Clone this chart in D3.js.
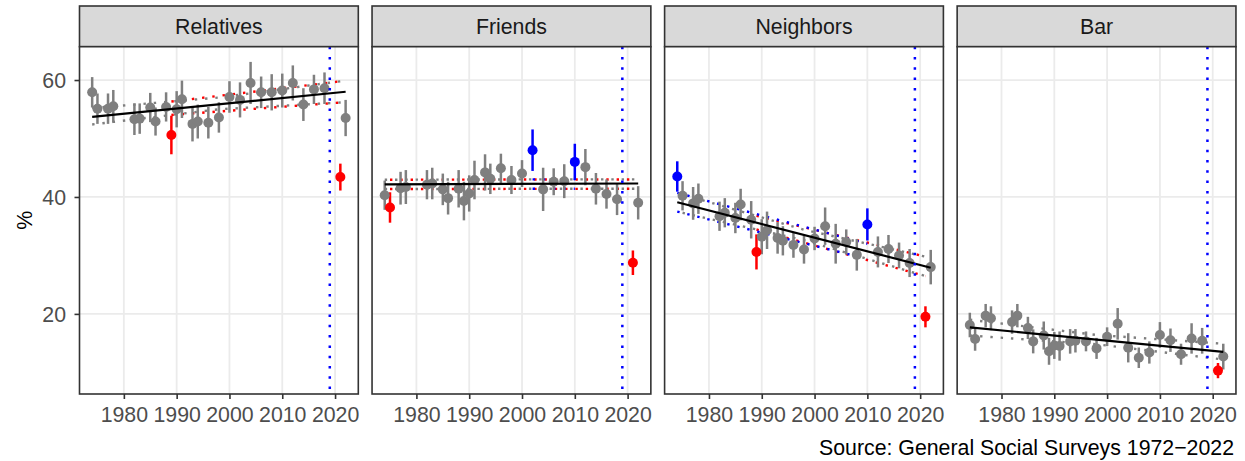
<!DOCTYPE html>
<html><head><meta charset="utf-8">
<script src="https://cdn.jsdelivr.net/npm/d3@7"></script>
<style>body{margin:0;background:#fff} svg{display:block}</style>
</head><body>
<svg id="chart" width="1245" height="461"></svg>
<script>
// ---- data ----
const years = [1974,1975,1977,1978,1982,1983,1985,1986,1988,1989,1990,1991,1993,1994,1996,1998,2000,2002,2004,2006,2008,2010,2012,2014,2016,2018,2021,2022];
const panelNames = ["Relatives","Friends","Neighbors","Bar"];

const relatives    = [57.9,55.1,55.1,55.5,53.3,53.4,55.3,52.9,55.4,50.6,55.0,56.7,52.5,52.9,52.7,53.6,57.1,56.6,59.5,57.9,57.9,58.2,59.5,55.8,58.4,58.6,43.4,53.5];
const relativesErr = [2.6,2.6,2.6,2.8,2.7,2.6,2.5,2.4,2.5,3.3,3.1,3.2,3.0,2.9,2.7,2.6,2.7,3.0,3.6,2.7,3.1,2.9,3.0,2.8,2.5,2.7,2.3,3.1];
const friends      = [40.3,38.2,41.5,41.7,42.1,42.3,41.3,39.8,41.4,39.3,40.6,42.9,44.2,43.1,44.9,42.9,44.0,48.0,41.3,42.6,42.7,46.0,45.1,41.4,40.5,39.6,28.75,39.0];
const friendsErr   = [2.5,2.6,2.8,2.9,2.5,2.7,2.7,2.8,3.2,3.3,3.1,3.3,3.1,2.6,2.5,2.4,2.3,3.55,3.7,2.3,2.9,3.1,3.1,2.7,2.5,2.7,2.1,2.85];
const neighbors    = [43.5,40.2,38.9,39.7,36.7,37.3,36.4,38.7,36.1,30.6,33.2,34.3,33.0,32.5,31.8,31.0,32.9,35.0,32.0,32.3,30.1,35.3,30.6,31.1,30.0,28.7,19.5,28.0];
const neighborsErr = [2.6,2.5,2.8,2.6,2.5,2.5,2.6,2.7,3.2,3.0,3.0,3.2,2.7,2.5,2.2,2.4,2.0,3.2,3.4,2.15,2.7,2.75,2.65,2.4,2.2,2.4,1.8,2.95];
const bar          = [18.1,15.7,19.7,19.25,18.6,19.7,17.6,15.3,16.3,13.6,14.6,14.5,15.3,15.4,15.3,14.1,16.1,18.3,14.2,12.5,13.4,16.4,15.5,13.1,15.8,15.4,10.3,12.7];
const barErr       = [2.1,2.0,2.0,2.05,2.0,2.0,1.9,2.05,2.4,2.3,2.3,2.5,2.1,2.0,1.7,1.8,1.6,2.7,2.5,1.75,1.9,2.2,2.0,1.8,2.6,2.2,1.3,2.2];

// years flagged below (red) / above (blue) the trend
const relativesRed = [1989,2021], relativesBlue = [];
const friendsRed   = [1975,2021], friendsBlue   = [2002,2010];
const neighborsRed = [1989,2021], neighborsBlue = [1974,2010];
const barRed       = [2021],      barBlue       = [];

// fitted trend (endpoints) and its confidence band (knots)
const trendYears = [1974, 2022];
const relativesTrend = [53.7, 58.0];
const friendsTrend   = [42.15, 42.3];
const neighborsTrend = [39.1, 27.9];
const barTrend       = [17.7, 13.5];
const bandYears = [1974, 1998, 2022];
const relativesBandLo = [52.4, 55.0, 56.2], relativesBandHi = [55.2, 57.0, 59.9];
const friendsBandLo   = [41.35, 41.4, 41.4], friendsBandHi  = [42.95, 43.0, 43.0];
const neighborsBandLo = [37.5, 32.6, 26.2], neighborsBandHi = [40.7, 34.4, 29.6];
const barBandLo       = [16.3, 14.8, 12.2], barBandHi       = [19.0, 16.4, 14.9];

const xTicks = [1980,1990,2000,2010,2020];
const yTicks = [20,40,60];
const cutoffYear = 2019;
const yLabel = "%";
const caption = "Source: General Social Surveys 1972\u22122022";

// ---- build table ----
const panels = [
  {name: panelNames[0], v: relatives, e: relativesErr, red: relativesRed, blue: relativesBlue, trend: relativesTrend, lo: relativesBandLo, hi: relativesBandHi},
  {name: panelNames[1], v: friends,   e: friendsErr,   red: friendsRed,   blue: friendsBlue,   trend: friendsTrend,   lo: friendsBandLo,   hi: friendsBandHi},
  {name: panelNames[2], v: neighbors, e: neighborsErr, red: neighborsRed, blue: neighborsBlue, trend: neighborsTrend, lo: neighborsBandLo, hi: neighborsBandHi},
  {name: panelNames[3], v: bar,       e: barErr,       red: barRed,       blue: barBlue,       trend: barTrend,       lo: barBandLo,       hi: barBandHi}
];

const COL = {g: "#7F7F7F", r: "#FF0000", b: "#0000FF"};
const FONT = "'Liberation Sans', Arial, Helvetica, sans-serif";
const FS = 21.3;

const svg = d3.select("#chart");
svg.append("rect").attr("width",1245).attr("height",461).attr("fill","#fff");

const left0 = 79.5, pw = 278.8, step = 292.55;
const stripTop = 6, plotTop = 46.7, plotBottom = 394;

const x = d3.scaleLinear().domain([1971.6, 2024.4]).range([0, pw]);
const y = d3.scaleLinear().domain([6.3, 65.7]).range([plotBottom, plotTop]);

panels.forEach((p, i) => {
  const g = svg.append("g").attr("transform", `translate(${left0 + i*step},0)`);
  // strip
  g.append("rect").attr("x",0).attr("y",stripTop).attr("width",pw).attr("height",plotTop-stripTop)
    .attr("fill","#D9D9D9").attr("stroke","#333333").attr("stroke-width",1.6);
  g.append("text").attr("x",pw/2).attr("y",34).attr("text-anchor","middle")
    .attr("font-family",FONT).attr("font-size",FS).attr("fill","#1A1A1A").text(p.name);
  // panel background + grid
  g.append("rect").attr("x",0).attr("y",plotTop).attr("width",pw).attr("height",plotBottom-plotTop).attr("fill","#fff");
  g.selectAll(".vg").data(xTicks).enter().append("line")
    .attr("x1",d=>x(d)).attr("x2",d=>x(d)).attr("y1",plotTop).attr("y2",plotBottom)
    .attr("stroke","#EBEBEB").attr("stroke-width",1.8);
  g.selectAll(".hg").data(yTicks).enter().append("line")
    .attr("x1",0).attr("x2",pw).attr("y1",d=>y(d)).attr("y2",d=>y(d))
    .attr("stroke","#EBEBEB").attr("stroke-width",1.8);

  const pts = years.map((yr, k) => ({yr, v: p.v[k], e: p.e[k],
    c: p.red.includes(yr) ? "r" : (p.blue.includes(yr) ? "b" : "g")}));

  // confidence band dotted lines per colour group
  const lo = d3.scaleLinear().domain(bandYears).range(p.lo);
  const hi = d3.scaleLinear().domain(bandYears).range(p.hi);
  const line = d3.line().x(d=>x(d[0])).y(d=>y(d[1]));
  ["g","r","b"].forEach(c => {
    const ys = pts.filter(d=>d.c===c).map(d=>d.yr);
    if (ys.length < 2) return;
    [lo, hi].forEach(f => {
      g.append("path").attr("d", line(ys.map(yr=>[yr, f(yr)])))
        .attr("fill","none").attr("stroke",COL[c]).attr("stroke-width",2.4)
        .attr("stroke-dasharray","2.4 7.9");
    });
  });

  // error bars + points
  g.selectAll(".eb").data(pts).enter().append("line")
    .attr("x1",d=>x(d.yr)).attr("x2",d=>x(d.yr))
    .attr("y1",d=>y(d.v-d.e)).attr("y2",d=>y(d.v+d.e))
    .attr("stroke",d=>COL[d.c]).attr("stroke-width",2.5);
  g.selectAll(".pt").data(pts).enter().append("circle")
    .attr("cx",d=>x(d.yr)).attr("cy",d=>y(d.v)).attr("r",5)
    .attr("fill",d=>COL[d.c]);

  // trend line
  g.append("path").attr("d", line(trendYears.map((yr,k)=>[yr, p.trend[k]])))
    .attr("fill","none").attr("stroke","#000").attr("stroke-width",2.2);

  // cutoff vertical line
  g.append("line").attr("x1",x(cutoffYear)).attr("x2",x(cutoffYear))
    .attr("y1",plotTop).attr("y2",plotBottom)
    .attr("stroke","#0000FF").attr("stroke-width",2.5).attr("stroke-dasharray","2.5 7.8");

  // border
  g.append("rect").attr("x",0).attr("y",plotTop).attr("width",pw).attr("height",plotBottom-plotTop)
    .attr("fill","none").attr("stroke","#333333").attr("stroke-width",1.6);

  // x axis
  const xa = g.append("g").attr("transform",`translate(0,${plotBottom})`)
    .call(d3.axisBottom(x).tickValues(xTicks).tickFormat(d3.format("d")).tickSize(5).tickPadding(8));
  xa.select(".domain").remove();
  xa.selectAll("line").attr("stroke","#333333").attr("stroke-width",1.6);
  xa.selectAll("text").attr("font-family",FONT).attr("font-size",FS).attr("fill","#4D4D4D");

  if (i === 0) {
    const ya = g.append("g").call(d3.axisLeft(y).tickValues(yTicks).tickSize(5).tickPadding(8.5));
    ya.select(".domain").remove();
    ya.selectAll("line").attr("stroke","#333333").attr("stroke-width",1.6);
    ya.selectAll("text").attr("font-family",FONT).attr("font-size",FS).attr("fill","#4D4D4D").attr("dy","0.36em");
  }
});

svg.append("text").attr("transform",`translate(31.5,${(plotTop+plotBottom)/2}) rotate(-90)`)
  .attr("text-anchor","middle").attr("font-family",FONT).attr("font-size",FS).attr("fill","#000").text(yLabel);
svg.append("text").attr("x",1234).attr("y",455).attr("text-anchor","end")
  .attr("font-family",FONT).attr("font-size",FS).attr("fill","#000").text(caption);
</script>
</body></html>
